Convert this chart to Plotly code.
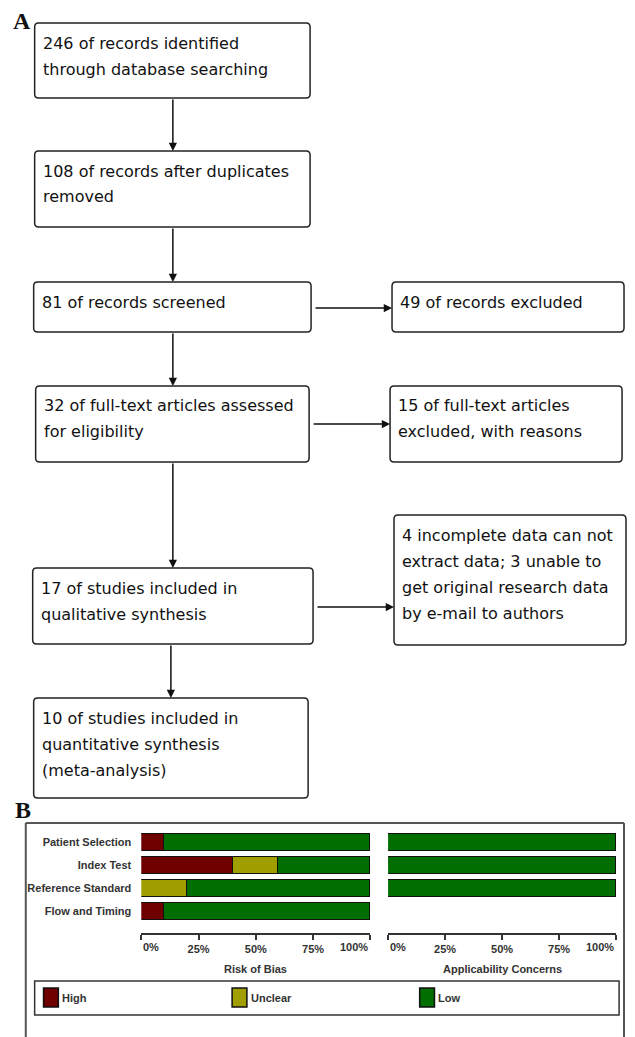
import plotly.graph_objects as go

# The page body has an 8px margin and the visible width ends near x=627,
# so the figure is placed in that window (slight horizontal squeeze).
OFF = 8
W, H = 619, 1037 - OFF
SX = 618 / 626

# ---------------- data ----------------
flow_main = [
    ["246 of records identified", "through database searching"],
    ["108 of records after duplicates", "removed"],
    ["81 of records screened"],
    ["32 of full-text articles assessed", "for eligibility"],
    ["17 of studies included in", "qualitative synthesis"],
    ["10 of studies included in", "quantitative synthesis", "(meta-analysis)"],
]
flow_side = [
    ["49 of records excluded"],
    ["15 of full-text articles", "excluded, with reasons"],
    ["4 incomplete data can not", "extract data; 3 unable to", "get original research data", "by e-mail to authors"],
]
domains = ["Patient Selection", "Index Test", "Reference Standard", "Flow and Timing"]
rob_high = [10, 40, 0, 10]
rob_unclear = [0, 20, 20, 0]
rob_low = [90, 40, 80, 90]
app_domains = ["Patient Selection", "Index Test", "Reference Standard"]
app_high = [0, 0, 0]
app_unclear = [0, 0, 0]
app_low = [100, 100, 100]
tick_vals = [0, 25, 50, 75, 100]
tick_text = ["0%", "25%", "50%", "75%", "100%"]
legend_labels = ["High", "Unclear", "Low"]
legend_colors = ["#6e0000", "#a09e00", "#006e00"]
panel_titles = ["Risk of Bias", "Applicability Concerns"]

# ---------------- layout geometry (reference pixels) ----------------
main_boxes = [(35, 23, 314, 98), (35, 151, 314, 227), (34, 282, 315, 332),
              (36, 386, 313, 462), (33, 568, 317, 644), (34, 698, 312, 798)]
side_boxes = [(397, 282, 632, 332), (395, 386, 630, 462), (399, 515, 634, 645)]
side_arrow_y = [308, 424, 607]
side_from = [2, 3, 4]
vert_x = [175, 175, 175, 175, 173]


def fx(x):
    return (x - OFF) * SX


def px(x):
    return fx(x) / W


def py(y):
    return 1 - (y - OFF) / H


def rrect(x0, y0, x1, y1, r=4):
    def P(x, y):
        return f"{px(x):.5f},{py(y):.5f}"
    return (f"M {P(x0 + r, y0)} L {P(x1 - r, y0)} Q {P(x1, y0)} {P(x1, y0 + r)} "
            f"L {P(x1, y1 - r)} Q {P(x1, y1)} {P(x1 - r, y1)} L {P(x0 + r, y1)} "
            f"Q {P(x0, y1)} {P(x0, y1 - r)} L {P(x0, y0 + r)} Q {P(x0, y0)} {P(x0 + r, y0)} Z")


FLOW_FONT = dict(family="DejaVu Sans, Verdana, sans-serif", size=16, color="#111111")
B_FONT = dict(family="Liberation Sans, Arial, sans-serif", size=11, color="#333333")
B_FONT_B = dict(B_FONT, weight="bold")

fig = go.Figure()

# ---------------- bars ----------------
def nz(vals):
    return [v if v else None for v in vals]

series_rob = [rob_high, rob_unclear, rob_low]
series_app = [app_high, app_unclear, app_low]
for i, lab in enumerate(legend_labels):
    fig.add_trace(go.Bar(y=domains, x=nz(series_rob[i]), orientation="h", name=lab,
                         marker=dict(color=legend_colors[i], line=dict(color="#111111", width=1.5)),
                         width=0.74, showlegend=False, xaxis="x", yaxis="y"))
    fig.add_trace(go.Bar(y=app_domains, x=nz(series_app[i]), orientation="h", name=lab,
                         marker=dict(color=legend_colors[i], line=dict(color="#111111", width=1.5)),
                         width=0.74, showlegend=False, xaxis="x2", yaxis="y2"))

# end tick labels are placed as annotations (left / right aligned like the reference)
inner_text = [""] + tick_text[1:-1] + [""]
ydom = [py(933), py(831)]
yr = [3.935, -0.5]
xcommon = dict(range=[0, 100], tickvals=tick_vals, ticktext=inner_text, ticks="outside",
               ticklen=5, tickwidth=1.5, tickcolor="#333333", showline=True,
               linecolor="#333333", linewidth=1.5, showgrid=False, zeroline=False,
               tickfont=B_FONT_B, fixedrange=True, automargin=False)
ycommon = dict(type="category", categoryorder="array", categoryarray=domains, range=yr,
               domain=ydom, showgrid=False, zeroline=False, showline=False, ticks="",
               tickfont=B_FONT_B, fixedrange=True, automargin=False)

fig.update_layout(
    width=W, height=H, margin=dict(l=0, r=0, t=0, b=0, autoexpand=False),
    paper_bgcolor="white", plot_bgcolor="rgba(0,0,0,0)",
    barmode="stack", bargap=0,
    xaxis=dict(xcommon, domain=[px(143), px(375)], anchor="y"),
    xaxis2=dict(xcommon, domain=[px(393), px(624)], anchor="y2"),
    yaxis=dict(ycommon, anchor="x", ticklabelstandoff=9),
    yaxis2=dict(ycommon, anchor="x2", showticklabels=False),
    showlegend=False,
)

shapes = []
annotations = []

for xr in ["x", "x2"]:
    annotations.append(dict(text=tick_text[0], x=tick_vals[0], xref=xr, y=py(947), yref="paper",
                            xanchor="left", yanchor="middle", showarrow=False, font=B_FONT_B))
    annotations.append(dict(text=tick_text[-1], x=tick_vals[-1], xref=xr, y=py(947), yref="paper",
                            xanchor="right", yanchor="middle", showarrow=False, font=B_FONT_B))

# ---------------- flowchart ----------------
LINE_OFF, LINE_SP = 20, 26
for box, lines in zip(main_boxes + side_boxes, flow_main + flow_side):
    x0, y0, x1, y1 = box
    shapes.append(dict(type="path", path=rrect(x0, y0, x1, y1), xref="paper", yref="paper",
                       line=dict(color="#222222", width=1.5), fillcolor="white"))
    for k, t in enumerate(lines):
        annotations.append(dict(text=t, x=px(x0 + 6), y=py(y0 + LINE_OFF + k * LINE_SP),
                                xref="paper", yref="paper", xanchor="left", yanchor="middle",
                                showarrow=False, font=FLOW_FONT))

# vertical arrows
for i in range(len(main_boxes) - 1):
    top_y = main_boxes[i + 1][1]
    bot_y = main_boxes[i][3]
    annotations.append(dict(text="", x=px(vert_x[i]), y=py(top_y), xref="paper", yref="paper",
                            ax=0, ay=-(top_y - bot_y), showarrow=True, arrowhead=2,
                            arrowsize=1.1, arrowwidth=1.5, arrowcolor="#111111", standoff=0))
# horizontal arrows
for j, sb in enumerate(side_boxes):
    src = main_boxes[side_from[j]]
    yline = side_arrow_y[j]
    annotations.append(dict(text="", x=px(sb[0]), y=py(yline), xref="paper", yref="paper",
                            ax=fx(src[2] + 3) - fx(sb[0]), ay=0, showarrow=True, arrowhead=2,
                            arrowsize=1.1, arrowwidth=1.5, arrowcolor="#111111", standoff=0))

# panel letters
for letter, (lx, ly) in zip(["A", "B"], [(22, 21), (23, 810)]):
    annotations.append(dict(text=f"<b>{letter}</b>", x=px(lx), y=py(ly), xref="paper", yref="paper",
                            showarrow=False, xanchor="center", yanchor="middle",
                            font=dict(family="Liberation Serif, Times New Roman, serif", size=24,
                                      color="#111111")))

# ---------------- panel B frame ----------------
frame_col = dict(color="#555555", width=2)
shapes.append(dict(type="line", x0=px(26), x1=px(632), y0=py(823), y1=py(823), xref="paper", yref="paper", line=frame_col))
shapes.append(dict(type="line", x0=px(26), x1=px(26), y0=py(823), y1=py(1040), xref="paper", yref="paper", line=frame_col))
shapes.append(dict(type="line", x0=px(632), x1=px(632), y0=py(823), y1=py(1040), xref="paper", yref="paper", line=frame_col))

# panel titles
for title, dom in zip(panel_titles, [(143, 375), (393, 624)]):
    annotations.append(dict(text=f"<b>{title}</b>", x=px((dom[0] + dom[1]) / 2), y=py(969),
                            xref="paper", yref="paper", showarrow=False, xanchor="center",
                            yanchor="middle", font=B_FONT))

# legend (manual)
shapes.append(dict(type="rect", x0=px(35), x1=px(627), y0=py(981), y1=py(1015), xref="paper", yref="paper",
                   line=dict(color="#333333", width=1.5)))
for lab, col, lx in zip(legend_labels, legend_colors, [44, 235, 425]):
    shapes.append(dict(type="rect", x0=px(lx), x1=px(lx + 15), y0=py(988), y1=py(1007),
                       xref="paper", yref="paper", fillcolor=col, line=dict(color="#111111", width=1.5)))
    annotations.append(dict(text=f"<b>{lab}</b>", x=px(lx + 17), y=py(998), xref="paper", yref="paper",
                            showarrow=False, xanchor="left", yanchor="middle", font=B_FONT))

fig.update_layout(shapes=shapes, annotations=annotations)
fig.write_html("out.html")
